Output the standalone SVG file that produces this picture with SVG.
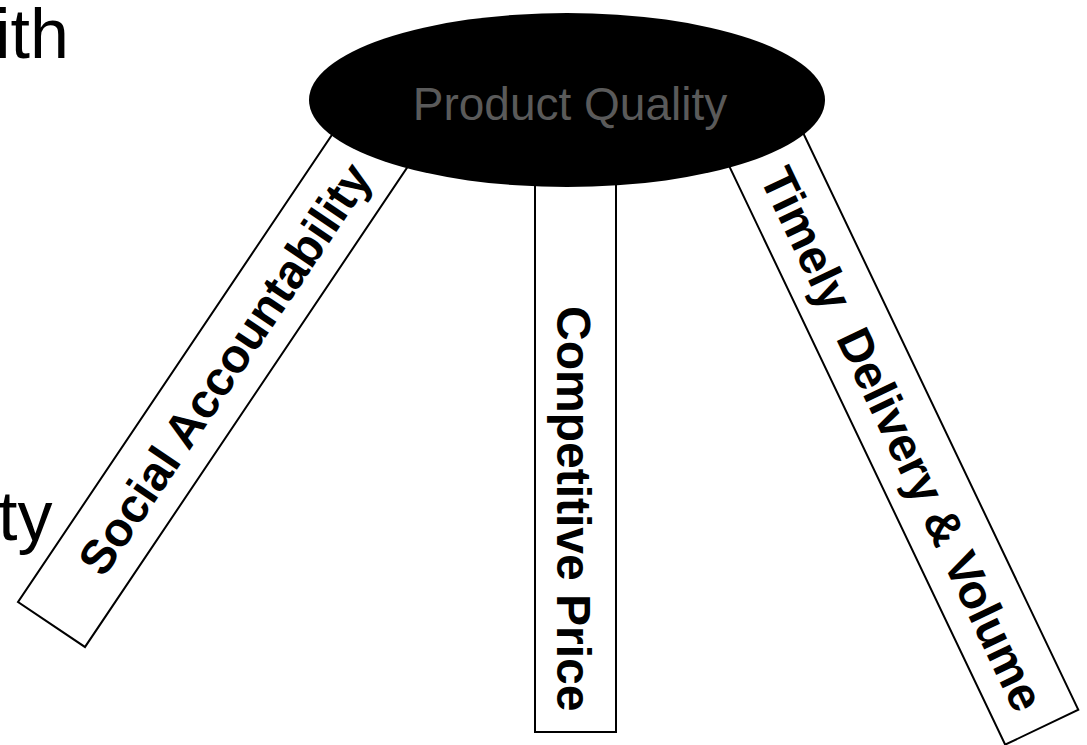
<svg xmlns="http://www.w3.org/2000/svg" width="1087" height="745" viewBox="0 0 1087 745">
<style>
.leg{fill:#fff;stroke:#000;stroke-width:2}
.lbl{font-family:"Liberation Sans",Arial,sans-serif;font-weight:bold;font-size:48px;fill:#000;white-space:pre}
.side{font-family:"Liberation Sans",Arial,sans-serif;font-size:70px;fill:#000}
.hub{font-family:"Liberation Sans",Arial,sans-serif;font-size:46px;fill:#5a5a5a}
</style>
<rect width="1087" height="745" fill="#fff"/>
<g id="side-text">
<text class="side" x="-5" y="58">ith</text>
<text class="side" x="-2" y="540">ty</text>
</g>
<g id="leg-social" transform="translate(18,602) rotate(-56.1)">
<rect class="leg" x="0" y="0" width="590" height="80.7"/>
<text class="lbl" x="67" y="58">Social Accountability</text>
</g>
<g id="leg-price">
<rect class="leg" x="535" y="150" width="81" height="582"/>
<text class="lbl" transform="translate(557,306) rotate(90)">Competitive Price</text>
</g>
<g id="leg-delivery" transform="translate(712,130) rotate(64.5)">
<rect class="leg" x="0" y="-81" width="681" height="81"/>
<text class="lbl" x="63" y="-22" xml:space="preserve">Timely  Delivery &amp; Volume</text>
</g>
<g id="product-quality">
<ellipse cx="567" cy="100" rx="258" ry="87" fill="#000"/>
<text class="hub" x="570" y="120" text-anchor="middle">Product Quality</text>
</g>
</svg>
